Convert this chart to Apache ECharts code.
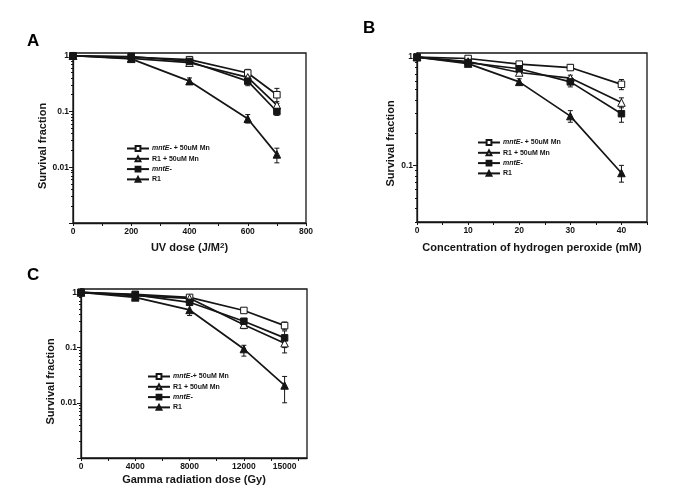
<!DOCTYPE html>
<html><head><meta charset="utf-8">
<script src="https://cdn.jsdelivr.net/npm/echarts@6/dist/echarts.min.js"></script>
<style>html,body{margin:0;padding:0;background:#fff}#c{width:685px;height:500px}</style>
</head><body><div id="c"></div>
<script>
// ---------- data ----------
const namesAB = ['mntE- + 50uM Mn', 'R1 + 50uM Mn', 'mntE-', 'R1'];
const namesC  = ['mntE-+ 50uM Mn', 'R1 + 50uM Mn', 'mntE-', 'R1'];

// Panel A: UV dose
const doseA = [0, 200, 400, 600, 700];
const mntEMnA   = [1, 0.95, 0.85, 0.49, 0.2];
const mntEMnALo = [1, 0.90, 0.78, 0.42, 0.14];
const mntEMnAHi = [1, 1.00, 0.93, 0.57, 0.26];
const r1MnA     = [1, 0.90, 0.75, 0.41, 0.13];
const r1MnALo   = [1, 0.85, 0.70, 0.36, 0.11];
const r1MnAHi   = [1, 0.95, 0.80, 0.46, 0.15];
const mntEA     = [1, 0.97, 0.79, 0.35, 0.10];
const mntEALo   = [1, 0.93, 0.73, 0.29, 0.085];
const mntEAHi   = [1, 1.00, 0.85, 0.41, 0.115];
const r1A       = [1, 0.88, 0.35, 0.074, 0.017];
const r1ALo     = [1, 0.82, 0.31, 0.062, 0.012];
const r1AHi     = [1, 0.94, 0.40, 0.088, 0.022];

// Panel B: hydrogen peroxide
const concB = [0, 10, 20, 30, 40];
const mntEMnB   = [1, 0.97, 0.86, 0.80, 0.56];
const mntEMnBLo = [1, 0.94, 0.82, 0.76, 0.50];
const mntEMnBHi = [1, 1.00, 0.90, 0.85, 0.62];
const r1MnB     = [1, 0.91, 0.72, 0.64, 0.38];
const r1MnBLo   = [1, 0.86, 0.68, 0.60, 0.34];
const r1MnBHi   = [1, 0.96, 0.76, 0.68, 0.42];
const mntEB     = [1, 0.89, 0.78, 0.59, 0.30];
const mntEBLo   = [1, 0.85, 0.72, 0.53, 0.25];
const mntEBHi   = [1, 0.93, 0.84, 0.65, 0.36];
const r1B       = [1, 0.87, 0.59, 0.285, 0.085];
const r1BLo     = [1, 0.82, 0.55, 0.25, 0.07];
const r1BHi     = [1, 0.92, 0.63, 0.32, 0.10];

// Panel C: gamma radiation
const doseC = [0, 4000, 8000, 12000, 15000];
const mntEMnC   = [1, 0.92, 0.81, 0.47, 0.25];
const mntEMnCLo = [1, 0.87, 0.75, 0.43, 0.21];
const mntEMnCHi = [1, 0.97, 0.88, 0.51, 0.29];
const r1MnC     = [1, 0.87, 0.78, 0.26, 0.12];
const r1MnCLo   = [1, 0.80, 0.70, 0.22, 0.10];
const r1MnCHi   = [1, 0.94, 0.86, 0.30, 0.14];
const mntEC     = [1, 0.90, 0.66, 0.30, 0.15];
const mntECLo   = [1, 0.84, 0.58, 0.27, 0.08];
const mntECHi   = [1, 0.96, 0.74, 0.33, 0.20];
const r1C       = [1, 0.81, 0.48, 0.094, 0.0206];
const r1CLo     = [1, 0.74, 0.38, 0.07, 0.01];
const r1CHi     = [1, 0.88, 0.58, 0.11, 0.03];

// tick labels
const xLabelsA = [0, 200, 400, 600, 800];
const xTicksA  = [0, 100, 200, 300, 400, 500, 600, 700, 800];
const xLabelsB = [0, 10, 20, 30, 40];
const xTicksB  = [0, 5, 10, 15, 20, 25, 30, 35, 40, 45];
const xLabelsC = [0, 4000, 8000, 12000, 15000];
const xTicksC  = [0, 2000, 4000, 6000, 8000, 10000, 12000, 14000, 16000];
const yLabelsAC = [1, 0.1, 0.01];
const yLabelsB  = [1, 0.1];
const yMajor = [1, 0.1, 0.01, 0.001];

// ---------- styling / build ----------
const FONT = '"Liberation Sans", Arial, sans-serif';
const INK = '#151515';
const minorTicks = [];
[0.001, 0.01, 0.1].forEach(d => { for (let k = 2; k <= 9; k++) minorTicks.push(+(k * d).toPrecision(3)); });

const grids = [
  {left: 73, top: 53, width: 233, height: 170},
  {left: 417, top: 53, width: 230, height: 169},
  {left: 81, top: 289, width: 226, height: 169}
];
const yRange = [[0.001, 1.12], [0.03, 1.09], [0.001, 1.15]];
const yLab = [yLabelsAC, yLabelsB, yLabelsAC];
const yNameGap = [21, 21, 23];
const yNameShift = [16, 12, 16];

const yAxes = [];
grids.forEach((g, i) => {
  yAxes.push({
    type: 'log', logBase: 10, gridIndex: i, position: 'left', min: yRange[i][0], max: yRange[i][1],
    axisLine: {show: true, lineStyle: {color: INK, width: 1.3}},
    axisTick: {show: true, inside: false, length: 4, lineStyle: {color: INK, width: 1}, customValues: yMajor},
    axisLabel: {customValues: yLab[i], fontSize: 8.5, fontWeight: 'bold', color: INK, fontFamily: FONT, margin: 4,
      formatter: v => String(+(+v).toPrecision(2))},
    splitLine: {show: false}, minorTick: {show: false},
    name: 'Survival fraction', nameLocation: 'middle', nameGap: yNameGap[i],
    nameTextStyle: {fontSize: 11, fontWeight: 'bold', color: INK, fontFamily: FONT, padding: [0, yNameShift[i], 0, 0]}
  });
  yAxes.push({
    type: 'log', logBase: 10, gridIndex: i, position: 'left', offset: 0, min: yRange[i][0], max: yRange[i][1],
    axisLine: {show: false},
    axisTick: {show: true, inside: false, length: 2, lineStyle: {color: INK, width: 1}, customValues: minorTicks},
    axisLabel: {show: false}, splitLine: {show: false}
  });
});

function xAxis(i, max, labels, ticks, name, gap) {
  return {
    type: 'value', gridIndex: i, min: 0, max: max,
    axisLine: {show: true, lineStyle: {color: INK, width: 1.3}},
    axisTick: {show: true, inside: false, length: 3, lineStyle: {color: INK, width: 1}, customValues: ticks},
    axisLabel: {customValues: labels, fontSize: 8.5, fontWeight: 'bold', color: INK, fontFamily: FONT, margin: 4,
      formatter: v => String(v)},
    splitLine: {show: false},
    name: name, nameLocation: 'middle', nameGap: gap,
    nameTextStyle: {fontSize: 11, fontWeight: 'bold', color: INK, fontFamily: FONT,
      rich: {s: {fontSize: 8, fontWeight: 'bold', color: INK, fontFamily: FONT, verticalAlign: 'top'}}}
  };
}
const xAxes = [
  xAxis(0, 800, xLabelsA, xTicksA, 'UV dose (J/M{s|2})', 19),
  xAxis(1, 45, xLabelsB, xTicksB, 'Concentration of hydrogen peroxide (mM)', 20),
  xAxis(2, 16650, xLabelsC, xTicksC, 'Gamma radiation dose (Gy)', 16)
];

const symDefs = [
  {symbol: 'rect', fill: '#ffffff', size: 6.5},
  {symbol: 'triangle', fill: '#ffffff', size: 7.5},
  {symbol: 'rect', fill: INK, size: 6.5},
  {symbol: 'triangle', fill: INK, size: 7.5}
];

const series = [];
function addPanel(i, names, x, ys, los, his) {
  ys.forEach((y, k) => {
    series.push({
      type: 'custom', name: names[k] + ' error', xAxisIndex: i, yAxisIndex: i * 2, silent: true, z: 3,
      data: x.map((v, j) => [v, los[k][j], his[k][j]]),
      encode: {x: 0, y: [1, 2]},
      renderItem: (params, api) => {
        const lo = api.value(1), hi = api.value(2);
        if (lo === hi) return null;
        const p1 = api.coord([api.value(0), lo]);
        const p2 = api.coord([api.value(0), hi]);
        const w = 2.5, st = {stroke: INK, lineWidth: 1};
        return {type: 'group', children: [
          {type: 'line', shape: {x1: p1[0], y1: p1[1], x2: p2[0], y2: p2[1]}, style: st},
          {type: 'line', shape: {x1: p1[0] - w, y1: p1[1], x2: p1[0] + w, y2: p1[1]}, style: st},
          {type: 'line', shape: {x1: p2[0] - w, y1: p2[1], x2: p2[0] + w, y2: p2[1]}, style: st}
        ]};
      }
    });
    series.push({
      type: 'line', name: names[k], xAxisIndex: i, yAxisIndex: i * 2, z: 4,
      data: x.map((v, j) => [v, y[j]]),
      symbol: symDefs[k].symbol, symbolSize: symDefs[k].size, showAllSymbol: true,
      lineStyle: {color: INK, width: 1.7},
      itemStyle: {color: symDefs[k].fill, borderColor: INK, borderWidth: 1},
      emphasis: {disabled: true}
    });
  });
}
addPanel(0, namesAB, doseA, [mntEMnA, r1MnA, mntEA, r1A], [mntEMnALo, r1MnALo, mntEALo, r1ALo], [mntEMnAHi, r1MnAHi, mntEAHi, r1AHi]);
addPanel(1, namesAB, concB, [mntEMnB, r1MnB, mntEB, r1B], [mntEMnBLo, r1MnBLo, mntEBLo, r1BLo], [mntEMnBHi, r1MnBHi, mntEBHi, r1BHi]);
addPanel(2, namesC, doseC, [mntEMnC, r1MnC, mntEC, r1C], [mntEMnCLo, r1MnCLo, mntECLo, r1CLo], [mntEMnCHi, r1MnCHi, mntECHi, r1CHi]);

function legend(left, top, names) {
  return {
    left: left, top: top, orient: 'vertical', itemWidth: 22, itemHeight: 6, itemGap: 1.3,
    selectedMode: false, data: names, padding: 0,
    textStyle: {fontSize: 7, fontWeight: 'bold', color: INK, fontFamily: FONT, lineHeight: 9, padding: [0, 0, 0, -2],
      rich: {i: {fontSize: 7, fontWeight: 'bold', fontStyle: 'italic', color: INK, fontFamily: FONT, lineHeight: 9}}},
    formatter: n => n.startsWith('mntE-') ? '{i|mntE-}' + n.slice(5) : n
  };
}

const titleStyle = {fontSize: 17, fontWeight: 'bold', color: '#000', fontFamily: FONT};
const option = {
  backgroundColor: '#fff',
  animation: false,
  title: [
    {text: 'A', left: 27, top: 33, padding: 0, textStyle: titleStyle},
    {text: 'B', left: 363, top: 20, padding: 0, textStyle: titleStyle},
    {text: 'C', left: 27, top: 267, padding: 0, textStyle: titleStyle}
  ],
  grid: grids.map(g => Object.assign({show: true, borderColor: INK, borderWidth: 1.3, backgroundColor: 'transparent'}, g)),
  xAxis: xAxes,
  yAxis: yAxes,
  legend: [legend(126, 144, namesAB), legend(477, 138, namesAB), legend(147, 372, namesC)],
  series: series
};
const chart = echarts.init(document.getElementById('c'), null, {renderer: 'canvas'});
chart.setOption(option);
</script>
</body></html>
